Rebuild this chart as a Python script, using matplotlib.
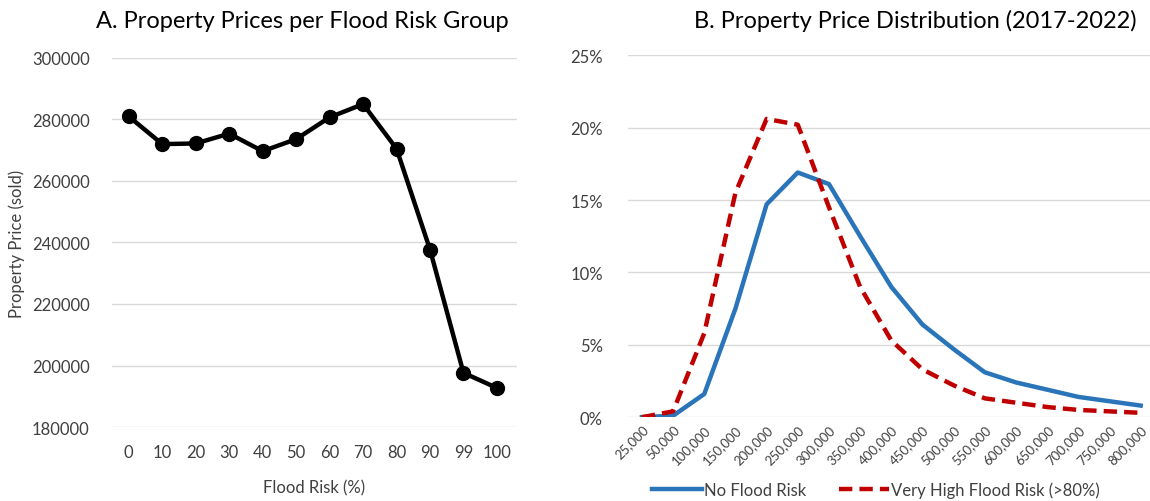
import numpy as np
import matplotlib
matplotlib.use("Agg")
import matplotlib.pyplot as plt
from matplotlib.ticker import PercentFormatter

plt.rcParams['font.family'] = ['Lato', 'DejaVu Sans']

# panel A data
risk_labels = ['0', '10', '20', '30', '40', '50', '60', '70', '80', '90', '99', '100']
price_sold = [281000, 272000, 272200, 275400, 269700, 273600, 280700, 285000,
              270500, 237700, 197600, 192700]

# panel B data
price_bins = ['25,000', '50,000', '100,000', '150,000', '200,000', '250,000',
              '300,000', '350,000', '400,000', '450,000', '500,000', '550,000',
              '600,000', '650,000', '700,000', '750,000', '800,000']
no_risk = [0.000, 0.001, 0.016, 0.075, 0.147, 0.169, 0.161, 0.125, 0.090,
           0.064, 0.047, 0.031, 0.024, 0.019, 0.014, 0.011, 0.008]
very_high_risk = [0.000, 0.004, 0.058, 0.155, 0.206, 0.202, 0.145, 0.090,
                  0.053, 0.033, 0.022, 0.013, 0.010, 0.007, 0.005, 0.004, 0.003]

fig = plt.figure(figsize=(11.5, 5.02), dpi=100)

grid_col = '#D9D9D9'
txt_col = '#404040'

# ---- A ----
ax1 = fig.add_axes([0.0974, 0.1474, 0.3522, 0.7351])
xa = np.arange(len(risk_labels))
ax1.plot(xa, price_sold, color='black', lw=3.2, marker='o', markersize=10)
ax1.set_xlim(-0.5, 11.6)
ax1.set_ylim(180000, 300000)
ax1.set_yticks(np.arange(180000, 300001, 20000))
ax1.set_xticks(xa)
ax1.set_xticklabels(risk_labels)
ax1.grid(axis='y', color=grid_col, lw=1)
ax1.set_axisbelow(True)
for s in ax1.spines.values():
    s.set_visible(False)
ax1.tick_params(length=0, labelsize=12, labelcolor=txt_col, pad=12)
ax1.tick_params(axis='y', pad=16)
ax1.set_xlabel('Flood Risk (%)', fontsize=12, color=txt_col, labelpad=14)
ax1.set_ylabel('Property Price (sold)', fontsize=12, color=txt_col, labelpad=5)
ax1.set_title('A. Property Prices per Flood Risk Group', fontsize=17, pad=22, x=0.47)

# ---- B ----
ax2 = fig.add_axes([0.546, 0.167, 0.454, 0.721])
xb = np.arange(len(price_bins))
ax2.plot(xb, no_risk, color='#2A74B9', lw=3.2, label='No Flood Risk')
ax2.plot(xb, very_high_risk, color='#C00000', lw=3.2, ls=(0, (3, 1.6)),
         label='Very High Flood Risk (>80%)')
ax2.set_xlim(-0.45, 16.3)
ax2.set_ylim(0, 0.25)
ax2.set_yticks(np.arange(0, 0.251, 0.05))
ax2.yaxis.set_major_formatter(PercentFormatter(1.0, decimals=0))
ax2.set_xticks(xb)
ax2.set_xticklabels(price_bins, rotation=45, ha='right', rotation_mode='anchor')
ax2.grid(axis='y', color=grid_col, lw=1)
ax2.set_axisbelow(True)
for s in ax2.spines.values():
    s.set_visible(False)
ax2.tick_params(length=0, labelcolor=txt_col)
ax2.tick_params(axis='y', labelsize=12, pad=18)
ax2.tick_params(axis='x', labelsize=9.5, pad=4)
ax2.set_title('B. Property Price Distribution (2017-2022)', fontsize=17, pad=20, x=0.55)
ax2.legend(loc='center', bbox_to_anchor=(0.475, -0.2), ncol=2, frameon=False,
           fontsize=12, handlelength=3.0, handletextpad=0.1, columnspacing=2.0,
           labelcolor=txt_col, borderaxespad=0)

fig.savefig('out.png', dpi=100)
